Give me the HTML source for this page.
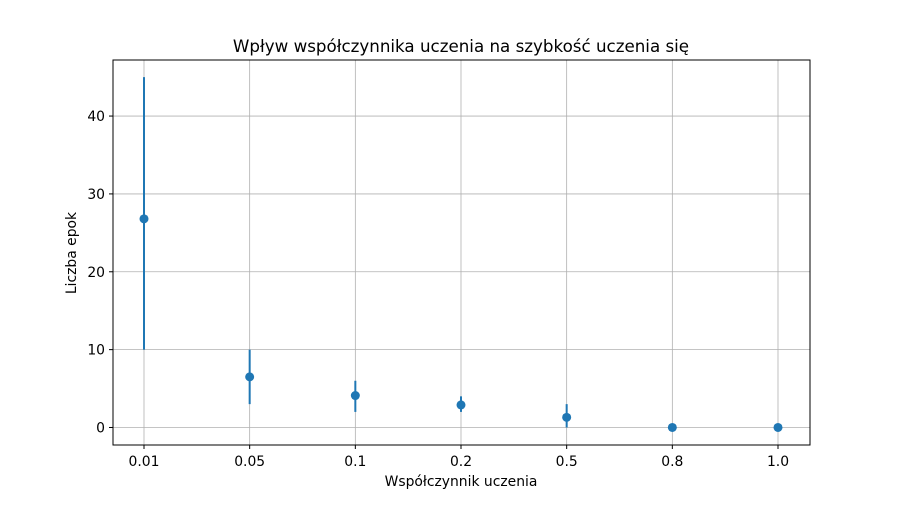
<!DOCTYPE html>
<html><head><meta charset="utf-8"><style>body{margin:0;background:#fff}svg{font-family:"DejaVu Sans","Liberation Sans",sans-serif}</style></head>
<body>
<svg id="chart" width="900" height="500">
<rect width="900" height="500" fill="#fff"/>
<text x="461" y="52" font-size="16.7" text-anchor="middle">Wpływ współczynnika uczenia na szybkość uczenia się</text>
<g id="grid"></g><g id="marks"></g><g id="axes"></g>
<rect x="113" y="60" width="697" height="385" fill="none" stroke="#000" stroke-width="1"/>
<text x="461" y="486" font-size="13.9" text-anchor="middle">Współczynnik uczenia</text>
<text transform="translate(76,253) rotate(-90)" font-size="13.9" text-anchor="middle">Liczba epok</text>
</svg>
<script>
const categories=["0.01","0.05","0.1","0.2","0.5","0.8","1.0"];
const means=[26.8,6.5,4.1,2.9,1.3,0,0];
const errLow=[10,3,2,2,0,0,0];
const errHigh=[45,10,6,4,3,0,0];
const yTicks=[0,10,20,30,40];
const NS="http://www.w3.org/2000/svg";
const x0=144,dx=(778-144)/6;
function xs(i){return x0+i*dx;}
const yMin=-2.25,yMax=47.2;
function ys(v){return 445-(v-yMin)/(yMax-yMin)*385;}
function mk(t,a,p){const e=document.createElementNS(NS,t);for(const k in a)e.setAttribute(k,a[k]);p.appendChild(e);return e;}
const grid=document.getElementById('grid'),marks=document.getElementById('marks'),axes=document.getElementById('axes');
categories.forEach((c,i)=>{
 const g=mk('line',{x1:xs(i),x2:xs(i),y1:60,y2:445,stroke:'#b0b0b0','stroke-width':0.8},grid);
 
 
 const t=mk('line',{x1:xs(i),x2:xs(i),y1:445,y2:449,stroke:'#000'},axes);
 
 
 const l=mk('text',{x:xs(i),y:466,'font-size':13.9,'text-anchor':'middle'},axes);l.textContent=c;
 
 
 const e=mk('line',{x1:xs(i),x2:xs(i),y1:ys(errLow[i]),y2:ys(errHigh[i]),stroke:'#1f77b4','stroke-width':2},marks);
 
 
 const p=mk('circle',{cx:xs(i),cy:ys(means[i]),r:4.5,fill:'#1f77b4'},marks);
 
 
});
yTicks.forEach(v=>{
 const g=mk('line',{x1:113,x2:810,y1:ys(v),y2:ys(v),stroke:'#b0b0b0','stroke-width':0.8},grid);
 
 
 const t=mk('line',{x1:109,x2:113,y1:ys(v),y2:ys(v),stroke:'#000'},axes);
 
 
 const l=mk('text',{x:105,y:ys(v)+5,'font-size':13.9,'text-anchor':'end'},axes);l.textContent=v;
 
 
});
</script>
</body></html>
